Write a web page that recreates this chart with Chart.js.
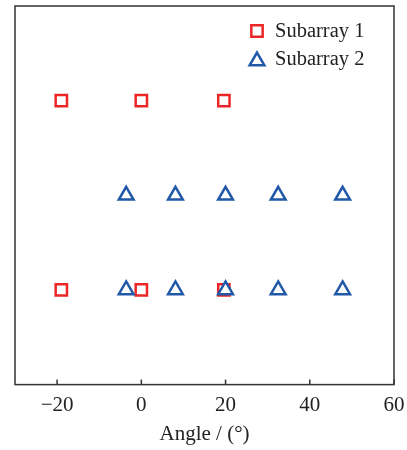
<!DOCTYPE html>
<html>
<head>
<meta charset="utf-8">
<script src="https://cdn.jsdelivr.net/npm/chart.js@4"></script>
<style>
  html, body { margin: 0; padding: 0; background: #fff; }
</style>
</head>
<body>
<canvas id="angleChart" width="407" height="450"></canvas>
<script>
const sub1Angles = [-19, 0, 19.6, -19, 0, 19.6];
const sub1Rows = [3, 3, 3, 1, 1, 1];
const sub2Angles = [-3.6, 8.1, 20, 32.5, 47.8, -3.6, 8.1, 20, 32.5, 47.8];
const sub2Rows = [2, 2, 2, 2, 2, 1, 1, 1, 1, 1];
const xTicks = [-20, 0, 20, 40, 60];
const seriesNames = ['Subarray 1', 'Subarray 2'];

const red = 'rgb(236, 38, 38)';
const blue = 'rgb(33, 88, 168)';
const fontFamily = '"Liberation Serif", "Times New Roman", serif';

function toPoints(xs, ys) {
    return xs.map((x, i) => ({ x: x, y: ys[i] }));
}

// frame, inward ticks and legend inside the plot box
const framePlugin = {
    id: 'frame',
    afterDraw(chart) {
        const ctx = chart.ctx;
        const area = chart.chartArea;
        const xScale = chart.scales.x;
        ctx.save();
        ctx.strokeStyle = '#333';
        ctx.lineWidth = 1.5;
        ctx.strokeRect(area.left, area.top, area.right - area.left, area.bottom - area.top);
        xTicks.forEach(t => {
            const px = xScale.getPixelForValue(t);
            ctx.beginPath();
            ctx.moveTo(px, area.bottom);
            ctx.lineTo(px, area.bottom - 5);
            ctx.stroke();
        });

        // legend
        ctx.font = '20.5px ' + fontFamily;
        ctx.textBaseline = 'middle';
        ctx.textAlign = 'left';
        const rows = [31, 59];
        chart.data.datasets.forEach((ds, i) => {
            const cx = 257, cy = rows[i];
            ctx.lineWidth = 2.5;
            ctx.strokeStyle = ds.borderColor;
            ctx.fillStyle = '#fff';
            Chart.helpers.drawPoint(ctx, {
                pointStyle: ds.pointStyle,
                radius: ds.pointRadius,
                borderWidth: 2.5,
                rotation: 0
            }, cx, cy + (ds.pointStyle === 'triangle' ? 2 : 0));
            ctx.fillStyle = '#222';
            ctx.fillText(ds.label, 275, cy + 1);
        });
        ctx.restore();
    }
};

new Chart(document.getElementById('angleChart'), {
    type: 'scatter',
    data: {
        datasets: [{
            label: seriesNames[0],
            data: toPoints(sub1Angles, sub1Rows),
            pointStyle: 'rect',
            pointRadius: 8,
            pointBorderWidth: 2.5,
            borderColor: red,
            backgroundColor: '#fff',
            order: 1
        },
        {
            label: seriesNames[1],
            data: toPoints(sub2Angles, sub2Rows),
            pointStyle: 'triangle',
            pointRadius: 8.5,
            pointBorderWidth: 2.5,
            borderColor: blue,
            backgroundColor: '#fff',
            order: 0
        }]
    },
    options: {
        responsive: false,
        animation: false,
        layout: {
            autoPadding: false,
            padding: { left: 15, right: 13, top: 6, bottom: 3 }
        },
        plugins: {
            legend: { display: false },
            tooltip: { enabled: false }
        },
        scales: {
            x: {
                type: 'linear',
                min: -30,
                max: 60,
                afterBuildTicks: (scale) => {
                    scale.ticks = xTicks.map(v => ({ value: v }));
                },
                afterFit: (scale) => {
                    scale.paddingLeft = 0;
                    scale.paddingRight = 0;
                },
                grid: { display: false, drawTicks: false },
                border: { display: false },
                ticks: {
                    padding: 8,
                    color: '#222',
                    maxRotation: 0,
                    font: { family: fontFamily, size: 21 },
                    callback: (v) => String(v).replace('-', '\u2212')
                },
                title: {
                    display: true,
                    text: 'Angle / (°)',
                    color: '#222',
                    padding: { top: -4, bottom: 0 },
                    font: { family: fontFamily, size: 21 }
                }
            },
            y: {
                display: false,
                min: 0,
                max: 4
            }
        }
    },
    plugins: [framePlugin]
});
</script>
</body>
</html>
